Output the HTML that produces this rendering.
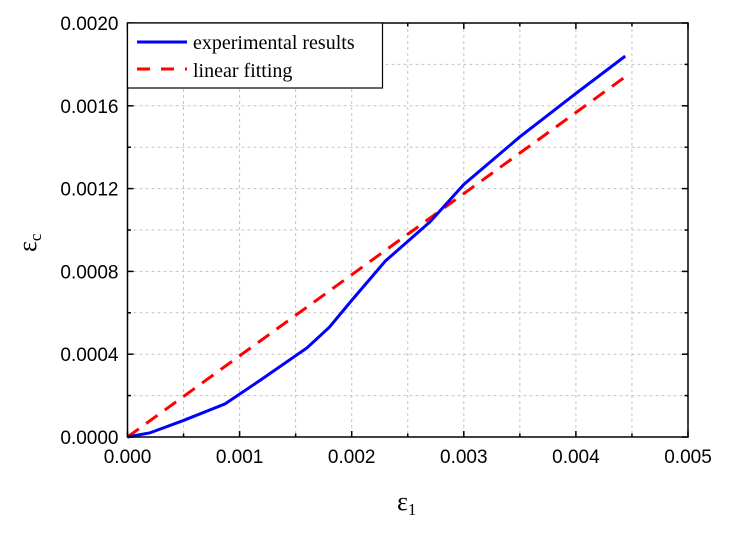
<!DOCTYPE html>
<html><head><meta charset="utf-8"><style>
body{margin:0;background:#fff}
text{font-family:"Liberation Sans",Arial,sans-serif}
</style></head><body>
<svg id="chart" width="729" height="531" xmlns="http://www.w3.org/2000/svg"></svg>
<script>
const xTicks=[0,0.001,0.002,0.003,0.004,0.005];
const xTickLabels=["0.000","0.001","0.002","0.003","0.004","0.005"];
const yTicks=[0,0.0004,0.0008,0.0012,0.0016,0.002];
const yTickLabels=["0.0000","0.0004","0.0008","0.0012","0.0016","0.0020"];
const expX=[0,0.0002,0.0005,0.00087,0.0012,0.0016,0.0018,0.002,0.0023,0.0027,0.003,0.0035,0.004,0.00444];
const expY=[0,0.00002,0.00008,0.00016,0.00028,0.00043,0.00053,0.00066,0.00085,0.00104,0.00122,0.00145,0.00166,0.00184];
const fitX=[0,0.00444];
const fitY=[0,0.00174];
const L=127.5,R=688,T=23,B=437;
const sx=v=>L+(v/0.005)*(R-L);
const sy=v=>B-(v/0.002)*(B-T);
const svg=document.getElementById('chart');
const NS="http://www.w3.org/2000/svg";
function mk(tag,attrs,parent){const e=document.createElementNS(NS,tag);for(const k in attrs)e.setAttribute(k,attrs[k]);(parent||svg).appendChild(e);return e;}
// grid (major + minor)
for(let i=1;i<10;i++){const x=sx(i*0.0005);
 const g=mk('line',{x1:x,x2:x,y1:T,y2:B,stroke:'#c4c4c4','stroke-dasharray':'3,3','stroke-width':1});
 
 }
for(let i=1;i<10;i++){const y=sy(i*0.0002);
 const g=mk('line',{x1:L,x2:R,y1:y,y2:y,stroke:'#c4c4c4','stroke-dasharray':'3,3','stroke-width':1});
 
 }
// ticks
xTicks.forEach((t,i)=>{
 const x=sx(t);
 mk('line',{x1:x,x2:x,y1:B,y2:B-6,stroke:'#000','stroke-width':1.5});
 mk('line',{x1:x,x2:x,y1:T,y2:T+6,stroke:'#000','stroke-width':1.5});
 if(i<xTicks.length-1){const xm=sx(t+0.0005);
 mk('line',{x1:xm,x2:xm,y1:B,y2:B-3.5,stroke:'#000','stroke-width':1.5});
 mk('line',{x1:xm,x2:xm,y1:T,y2:T+3.5,stroke:'#000','stroke-width':1.5});}
 const tx=mk('text',{x:x,y:B+26,'font-size':19,'text-anchor':'middle'});tx.textContent=xTickLabels[i];
 
 
});
yTicks.forEach((t,i)=>{
 const y=sy(t);
 mk('line',{x1:L,x2:L+6,y1:y,y2:y,stroke:'#000','stroke-width':1.5});
 mk('line',{x1:R,x2:R-6,y1:y,y2:y,stroke:'#000','stroke-width':1.5});
 if(i<yTicks.length-1){const ym=sy(t+0.0002);
 mk('line',{x1:L,x2:L+3.5,y1:ym,y2:ym,stroke:'#000','stroke-width':1.5});
 mk('line',{x1:R,x2:R-3.5,y1:ym,y2:ym,stroke:'#000','stroke-width':1.5});}
 const tx=mk('text',{x:L-9,y:y+7,'font-size':19,'text-anchor':'end'});tx.textContent=yTickLabels[i];
 
 
});
// series
const fit=mk('polyline',{points:fitX.map((v,i)=>sx(v)+','+sy(fitY[i])).join(' '),fill:'none',stroke:'#f00','stroke-width':3,'stroke-dasharray':'14,9'});


const exp=mk('polyline',{points:expX.map((v,i)=>sx(v)+','+sy(expY[i])).join(' '),fill:'none',stroke:'#00f','stroke-width':3});


// frame
mk('rect',{x:L,y:T,width:R-L,height:B-T,fill:'none',stroke:'#000','stroke-width':1.5});
// legend
const lg=mk('g',{});


mk('rect',{x:L,y:T,width:255,height:65,fill:'#fff',stroke:'#000','stroke-width':1.2},lg);
mk('line',{x1:137,x2:187,y1:42,y2:42,stroke:'#00f','stroke-width':3},lg);
mk('line',{x1:137,x2:187,y1:69,y2:69,stroke:'#f00','stroke-width':3,'stroke-dasharray':'13,11'},lg);
const t1=mk('text',{x:193,y:49,'font-size':20},lg);t1.textContent='experimental results';
t1.style.fontFamily='"Liberation Serif",serif';
const t2=mk('text',{x:193,y:77,'font-size':20},lg);t2.textContent='linear fitting';
t2.style.fontFamily='"Liberation Serif",serif';
// axis titles
const xt=mk('text',{x:397,y:510,'font-size':26});xt.innerHTML='ε<tspan font-size="17" dy="5">1</tspan>';
xt.style.fontFamily='"Liberation Serif",serif';


const yt=mk('text',{x:0,y:0,'font-size':26,transform:'translate(36,252) rotate(-90)'});yt.innerHTML='ε<tspan font-size="17" dy="5">c</tspan>';
yt.style.fontFamily='"Liberation Serif",serif';


</script>
</body></html>
